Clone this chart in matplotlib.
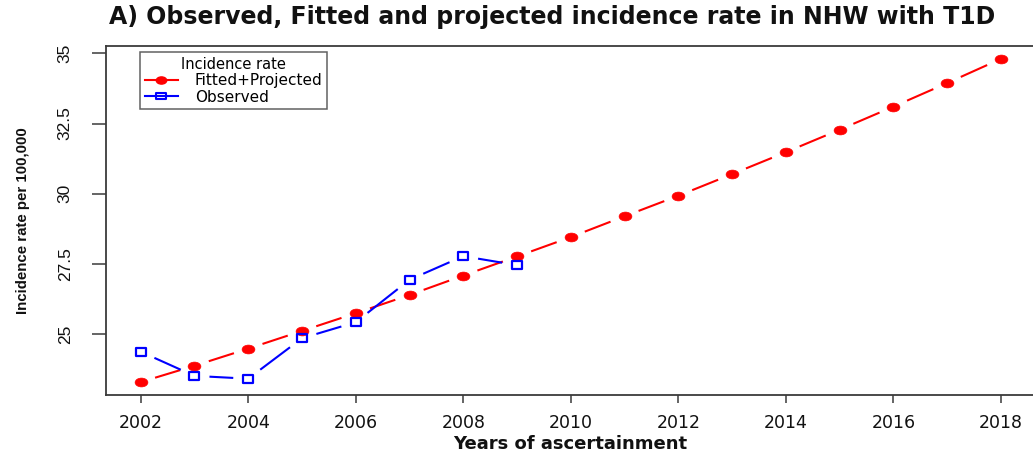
import numpy as np
import matplotlib
matplotlib.use("Agg")
import matplotlib.pyplot as plt
from matplotlib.path import Path
from matplotlib.lines import Line2D

# ---- data ----
years_fit = [2002, 2003, 2004, 2005, 2006, 2007, 2008, 2009, 2010,
             2011, 2012, 2013, 2014, 2015, 2016, 2017, 2018]
rate_fit = [23.30, 23.88, 24.49, 25.12, 25.75, 26.40, 27.09, 27.77, 28.46,
            29.20, 29.93, 30.70, 31.48, 32.28, 33.10, 33.94, 34.80]
years_obs = [2002, 2003, 2004, 2005, 2006, 2007, 2008, 2009]
rate_obs = [24.38, 23.52, 23.42, 24.86, 25.43, 26.94, 27.78, 27.46]
x_ticks = [2002, 2004, 2006, 2008, 2010, 2012, 2014, 2016, 2018]
y_ticks = [25, 27.5, 30, 32.5, 35]
y_ticklabels = ["25", "27.5", "30", "32.5", "35"]
legend_labels = ["Fitted+Projected", "Observed"]
legend_title = "Incidence rate"
title = "A) Observed, Fitted and projected incidence rate in NHW with T1D"
xlabel = "Years of ascertainment"
ylabel = "Incidence rate per 100,000"

W, H, DPI = 1033, 455, 100
plt.rcParams['font.family'] = ['DejaVu Sans']
NARROW = ['Liberation Sans', 'DejaVu Sans']
fig = plt.figure(figsize=(W / DPI, H / DPI), dpi=DPI)
ax = fig.add_axes([106 / W, 1 - 395 / H, (1036 - 106) / W, (395 - 45.7) / H])
ax.set_xlim(2001.354, 2018.654)
ax.set_ylim(22.84, 35.27)

# custom (horizontally stretched) markers
circ = Path.unit_circle()
ell = Path(circ.vertices * np.array([1.0, 0.69]), circ.codes)
rect = Path(np.array([[-1, -0.66], [1, -0.66], [1, 0.66], [-1, 0.66], [-1, -0.66]]),
            [Path.MOVETO, Path.LINETO, Path.LINETO, Path.LINETO, Path.CLOSEPOLY])

RED, BLUE = "#FF0000", "#0000FF"
GAP = 15.0  # px gap around points (R type="b")


def type_b(xs, ys, color):
    pts = ax.transData.transform(np.column_stack([xs, ys]))
    inv = ax.transData.inverted()
    for p0, p1 in zip(pts[:-1], pts[1:]):
        d = p1 - p0
        L = np.hypot(*d)
        if L <= 2 * GAP:
            continue
        u = d / L
        a = inv.transform(p0 + u * GAP)
        b = inv.transform(p1 - u * GAP)
        ax.plot([a[0], b[0]], [a[1], b[1]], color=color, lw=1.5,
                solid_capstyle='butt', zorder=2)


type_b(years_fit, rate_fit, RED)
type_b(years_obs, rate_obs, BLUE)
ax.plot(years_fit, rate_fit, ls='none', marker=ell, ms=9.2, color=RED,
        mec=RED, mew=0.5, zorder=3)
ax.plot(years_obs, rate_obs, ls='none', marker=rect, ms=7.8, mfc='none',
        mec=BLUE, mew=1.6, zorder=3)

# axes styling
for s in ax.spines.values():
    s.set_color('#3a3a3a')
    s.set_linewidth(1.3)
ax.set_xticks(x_ticks)
ax.set_xticklabels([str(v) for v in x_ticks], fontsize=12.5, color='#111111')
ax.set_yticks(y_ticks)
ax.set_yticklabels(y_ticklabels, fontsize=12.5, rotation=90, va='center',
                   color='#111111', family=NARROW)
ax.tick_params(axis='x', length=6, width=1.1, color='#3a3a3a', pad=8)
ax.tick_params(axis='y', length=10, width=1.1, color='#3a3a3a', pad=14)

fig.text(552 / W, 1 - 17 / H, title, ha='center', va='center',
         fontsize=17, fontweight='bold', color='#111111')
fig.text(570 / W, 1 - 444 / H, xlabel, ha='center', va='center',
         fontsize=13, fontweight='bold', color='#111111')
fig.text(23 / W, 1 - 220.5 / H, ylabel, ha='center', va='center', rotation=90,
         fontsize=10.8, fontweight='bold', color='#111111', family=NARROW)

handles = [Line2D([], [], color=RED, lw=1.5, marker=ell, ms=7.5, mec=RED),
           Line2D([], [], color=BLUE, lw=1.5, marker=rect, ms=6.5, mfc='none',
                  mec=BLUE, mew=1.5)]
leg = ax.legend(handles, legend_labels, title=legend_title,
                loc='upper left', bbox_to_anchor=(140 / W, 1 - 52 / H),
                bbox_transform=fig.transFigure, fontsize=11, title_fontsize=10.5,
                frameon=True, fancybox=False, edgecolor='#3a3a3a',
                handlelength=2.2, handletextpad=1.1, labelspacing=0.1,
                borderpad=0.3, borderaxespad=0)
leg.get_frame().set_linewidth(1.1)

fig.savefig("out.png", dpi=DPI)
